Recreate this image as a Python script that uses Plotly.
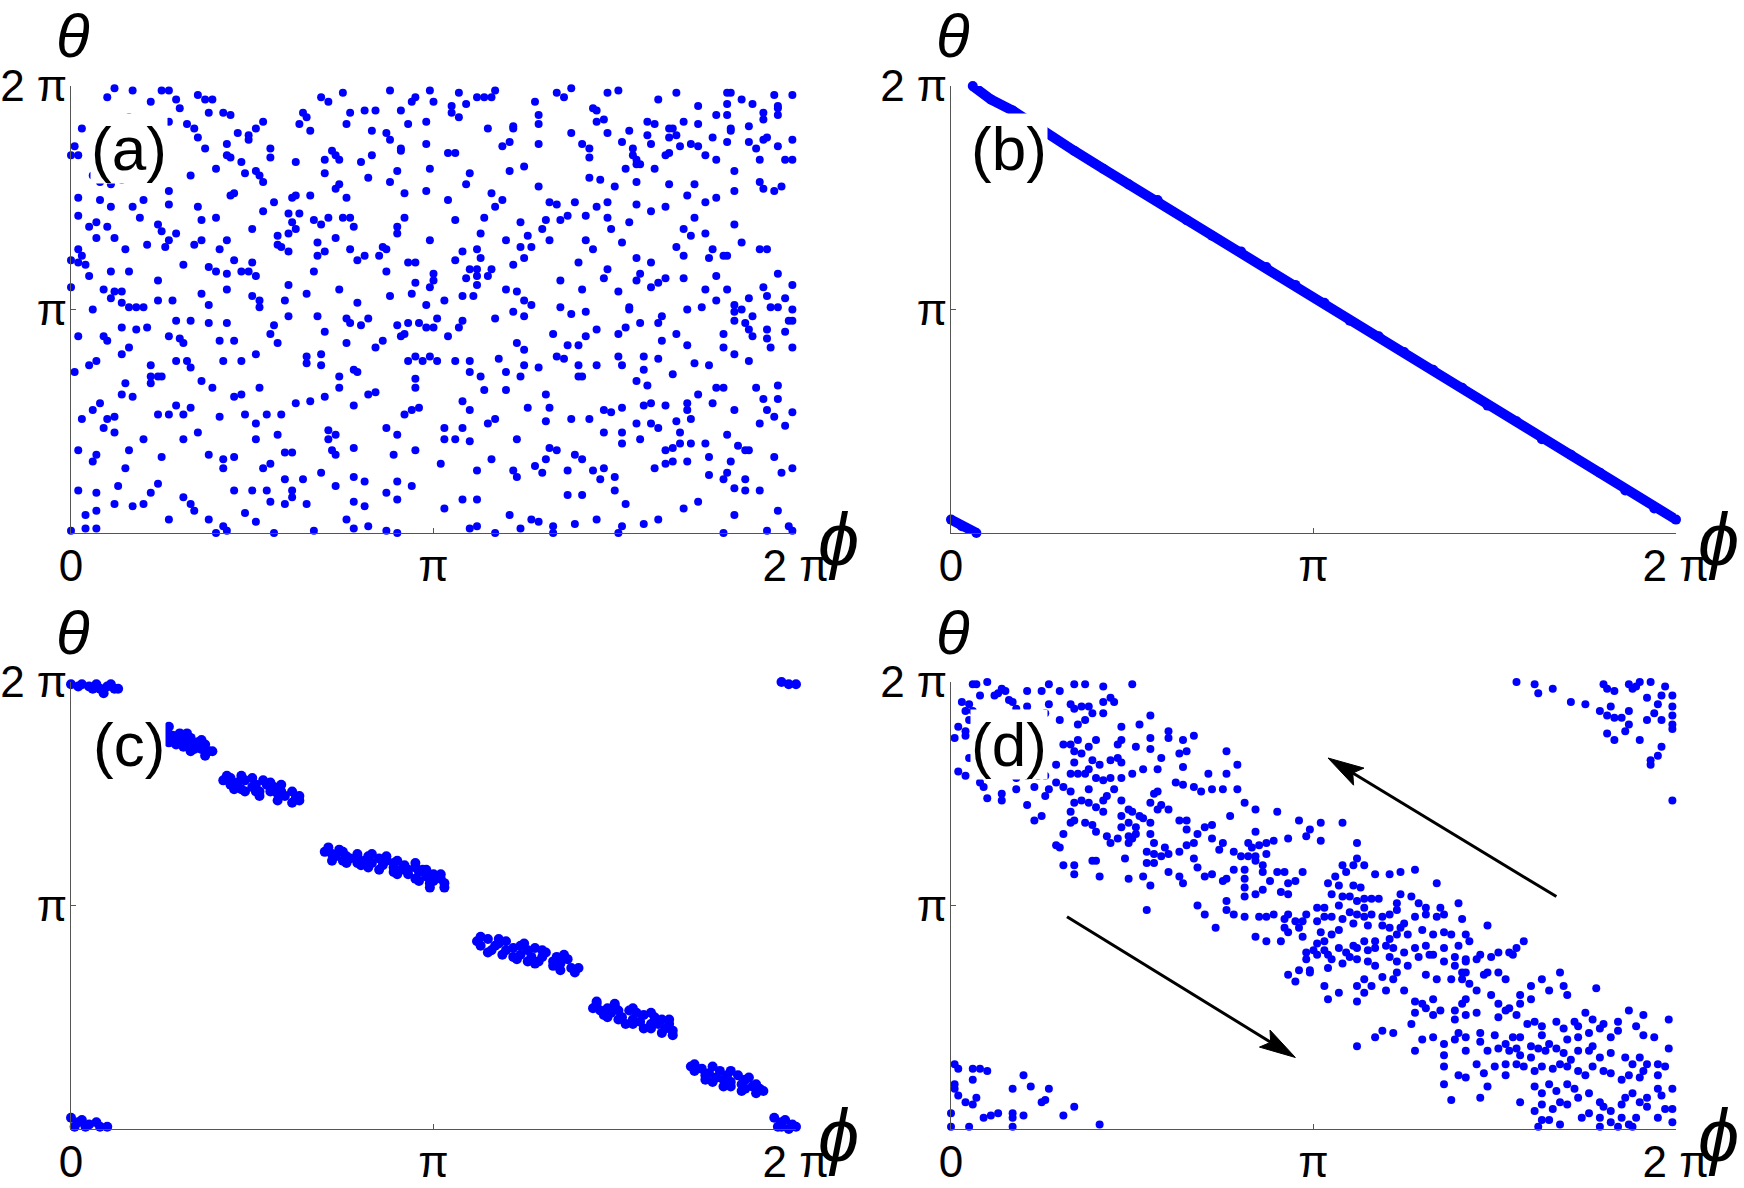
import numpy as np
import plotly.graph_objects as go

PI = np.pi

# ---------------- data (angles in units of pi: (phi/pi, theta/pi)) ----------------
points_a = [
(0.12,1.99),(0.17,1.98),(0.10,1.95),(0.25,1.98),(0.27,1.98),(0.22,1.93),(0.29,1.94),(0.35,1.96),(0.37,1.94),(0.39,1.94),(0.69,1.95),(0.75,1.97),(0.71,1.93),(0.88,1.98),(0.95,1.95),(0.99,1.98),(0.94,1.93),(1.00,1.93),(1.07,1.97),(1.09,1.92),(1.12,1.95),(1.14,1.95),(1.16,1.95),(1.17,1.98),(1.28,1.93),(1.34,1.97),(1.36,1.95),(1.38,1.99),(1.48,1.97),(1.51,1.98),(1.62,1.94),(1.67,1.97),(1.81,1.97),(1.82,1.97),(1.85,1.94),(1.94,1.96),(1.99,1.96),(1.88,1.92),(1.73,1.91),
(0.30,1.90),(0.38,1.88),(0.42,1.88),(0.44,1.87),(0.64,1.88),(0.77,1.88),(0.81,1.89),(0.84,1.89),(0.91,1.89),(1.05,1.91),(1.05,1.88),(1.44,1.90),(1.45,1.89),(1.81,1.92),(1.91,1.88),(1.95,1.90),(1.95,1.87),(1.78,1.87),(1.81,1.87),(0.03,1.81),(0.16,1.86),(0.27,1.84),(0.32,1.83),(0.34,1.81),(0.53,1.84),(0.63,1.83),(0.65,1.86),(0.76,1.83),(0.93,1.83),(0.98,1.84),(1.07,1.86),(1.22,1.82),(1.22,1.81),(1.29,1.83),(1.29,1.87),(1.47,1.85),(1.45,1.84),(1.59,1.84),(1.61,1.83),(1.65,1.81),(1.69,1.84),(1.73,1.83),(1.82,1.81),(1.87,1.82),(1.91,1.85),(1.95,1.91),
(0.35,1.77),(0.46,1.79),(0.49,1.78),(0.51,1.81),(0.49,1.76),(0.43,1.74),(0.66,1.80),(0.83,1.80),(0.87,1.79),(0.88,1.76),(0.98,1.74),(1.15,1.81),(1.19,1.73),(1.21,1.75),(1.29,1.74),(1.38,1.79),(1.41,1.74),(1.48,1.79),(1.52,1.75),(1.54,1.80),(1.55,1.72),(1.59,1.78),(1.60,1.74),(1.66,1.81),(1.65,1.77),(1.67,1.78),(1.71,1.74),(1.77,1.77),(1.82,1.80),(1.87,1.75),(1.91,1.76),(1.92,1.77),(1.99,1.76),(1.81,1.75),(1.89,1.72),(1.95,1.73),(0.37,1.72),(0.55,1.72),(0.43,1.69),(0.91,1.72),(0.91,1.71),(1.43,1.72),(1.43,1.68),
(0.00,1.69),(0.02,1.69),(0.01,1.73),(0.06,1.60),(0.14,1.58),(0.08,1.57),(0.11,1.56),(0.33,1.60),(0.40,1.63),(0.44,1.68),(0.47,1.66),(0.48,1.61),(0.51,1.62),(0.52,1.60),(0.55,1.68),(0.53,1.57),(0.62,1.66),(0.70,1.67),(0.72,1.71),(0.70,1.61),(0.73,1.69),(0.74,1.67),(0.80,1.66),(0.83,1.69),(0.90,1.62),(0.99,1.63),(1.04,1.70),(1.06,1.70),(1.10,1.61),(1.21,1.62),(1.25,1.64),(1.53,1.63),(1.56,1.65),(1.56,1.67),(1.57,1.65),(1.55,1.69),(1.64,1.69),(1.65,1.70),(1.68,1.73),(1.73,1.73),(1.75,1.69),(1.78,1.67),(1.83,1.62),(1.90,1.67),(1.97,1.67),(1.99,1.67),(1.61,1.63),(1.43,1.59),
(0.17,1.60),(0.27,1.53),(0.02,1.50),(0.08,1.49),(0.11,1.46),(0.17,1.46),(0.20,1.49),(0.27,1.47),(0.35,1.46),(0.44,1.51),(0.45,1.52),(0.56,1.48),(0.61,1.50),(0.62,1.51),(0.66,1.51),(0.74,1.56),(0.73,1.54),(0.76,1.50),(0.82,1.59),(0.88,1.57),(0.92,1.52),(0.98,1.53),(1.04,1.49),(1.09,1.56),(1.16,1.52),(1.17,1.46),(1.19,1.49),(1.29,1.55),(1.32,1.48),(1.34,1.47),(1.39,1.48),(1.46,1.58),(1.50,1.55),(1.56,1.57),(1.65,1.56),(1.72,1.56),(1.70,1.51),(1.75,1.48),(1.78,1.50),(1.83,1.53),(1.90,1.57),(1.91,1.54),(1.94,1.53),(1.96,1.55),(1.60,1.44),(1.64,1.46),(1.45,1.46),(1.48,1.48),(1.56,1.47),
(0.02,1.42),(0.05,1.37),(0.07,1.39),(0.10,1.37),(0.07,1.32),(0.12,1.32),(0.19,1.41),(0.24,1.38),(0.25,1.35),(0.27,1.31),(0.29,1.34),(0.34,1.29),(0.36,1.31),(0.40,1.41),(0.36,1.40),(0.50,1.36),(0.53,1.44),(0.60,1.43),(0.63,1.43),(0.61,1.39),(0.62,1.36),(0.60,1.34),(0.67,1.40),(0.69,1.38),(0.71,1.41),(0.75,1.41),(0.77,1.41),(0.78,1.37),(0.90,1.37),(0.90,1.34),(0.92,1.41),(1.06,1.40),(1.14,1.41),(1.13,1.34),(1.24,1.39),(1.30,1.36),(1.31,1.40),(1.35,1.40),(1.37,1.42),(1.42,1.42),(1.48,1.41),(1.49,1.36),(1.54,1.39),(1.69,1.36),(1.72,1.41),(1.75,1.34),(1.83,1.38),(1.71,1.33),
(0.02,1.27),(0.03,1.24),(0.04,1.20),(0.00,1.22),(0.02,1.21),(0.15,1.27),(0.21,1.29),(0.26,1.28),(0.43,1.31),(0.41,1.27),(0.45,1.22),(0.50,1.21),(0.49,1.17),(0.51,1.15),(0.31,1.20),(0.38,1.19),(0.40,1.17),(0.43,1.16),(0.47,1.17),(0.57,1.33),(0.57,1.29),(0.58,1.28),(0.60,1.26),(0.68,1.30),(0.73,1.32),(0.70,1.26),(0.68,1.24),(0.77,1.27),(0.79,1.22),(0.81,1.24),(0.86,1.28),(0.85,1.24),(0.87,1.27),(0.87,1.17),(0.93,1.21),(0.95,1.21),(0.99,1.31),(1.08,1.26),(1.12,1.27),(1.06,1.22),(1.13,1.23),(1.10,1.18),(1.12,1.18),(1.16,1.18),(1.12,1.15),(1.24,1.28),(1.20,1.31),(1.26,1.33),(1.27,1.28),(1.25,1.23),(1.22,1.20),(1.32,1.31),(1.40,1.21),(1.42,1.31),(1.44,1.27),(1.48,1.18),(1.52,1.30),(1.56,1.23),(1.60,1.21),(1.67,1.28),(1.69,1.24),(1.76,1.23),(1.77,1.27),(1.80,1.24),(1.81,1.24),(1.85,1.30),(1.90,1.27),(1.92,1.27),(1.78,1.15),(1.64,1.14),
(0.05,1.15),(0.11,1.17),(0.16,1.17),(0.24,1.13),(0.12,1.08),(0.11,1.05),(0.14,1.08),(0.16,1.01),(0.06,1.00),(0.00,1.10),(0.09,1.09),(0.14,1.03),(0.18,1.01),(0.20,1.01),(0.24,1.04),(0.28,1.04),(0.36,1.07),(0.38,1.02),(0.43,1.09),(0.50,1.06),(0.52,1.04),(0.52,1.01),(0.60,1.11),(0.59,1.04),(0.65,1.07),(0.67,1.17),(0.74,1.09),(0.79,1.03),(0.88,1.06),(0.94,1.07),(0.95,1.12),(1.00,1.16),(1.00,1.13),(0.99,1.10),(1.03,1.04),(0.98,1.02),(1.08,1.06),(1.09,1.14),(1.11,1.06),(1.12,1.11),(1.15,1.15),(1.20,1.09),(1.23,1.08),(1.25,1.04),(1.35,1.13),(1.41,1.09),(1.47,1.14),(1.51,1.08),(1.54,1.01),(1.57,1.16),(1.56,1.13),(1.60,1.10),(1.62,1.12),(1.69,1.14),(1.75,1.09),(1.78,1.04),(1.81,1.09),(1.83,1.02),(1.87,1.05),(1.91,1.10),(1.92,1.06),(1.95,1.16),(1.99,1.11),(1.93,1.01),(1.95,1.01),(1.97,1.05),(1.98,0.95),(1.99,1.00),
(0.02,0.88),(0.09,0.88),(0.10,0.86),(0.14,0.92),(0.18,0.91),(0.21,0.92),(0.16,0.83),(0.27,0.88),(0.29,0.95),(0.33,0.95),(0.38,0.94),(0.43,0.94),(0.55,0.89),(0.56,0.93),(0.60,0.97),(0.70,0.90),(0.68,0.97),(0.76,0.96),(0.77,0.94),(0.80,0.93),(0.82,0.96),(0.90,0.93),(0.92,0.89),(0.93,0.94),(0.96,0.94),(0.98,0.92),(1.00,0.92),(1.01,0.96),(1.04,0.88),(1.07,0.92),(1.08,0.95),(1.17,0.96),(1.22,0.99),(1.25,0.97),(1.27,1.02),(1.35,1.01),(1.38,0.98),(1.42,0.99),(1.53,0.92),(1.54,1.00),(1.57,0.94),(1.63,0.97),(1.62,0.94),(1.67,0.89),(1.70,1.00),(1.74,1.01),(1.80,0.89),(1.83,0.99),(1.85,1.00),(1.83,0.95),(1.86,0.94),(1.88,0.97),(1.87,0.91),(1.88,0.88),(1.92,0.91),(1.97,0.90),(1.99,0.95),(1.45,0.91),(1.51,0.89),(1.33,0.89),(1.42,0.88),
(0.05,0.75),(0.07,0.77),(0.14,0.80),(0.22,0.75),(0.22,0.70),(0.24,0.70),(0.25,0.70),(0.30,0.87),(0.31,0.85),(0.29,0.77),(0.32,0.77),(0.33,0.74),(0.41,0.86),(0.45,0.86),(0.42,0.77),(0.47,0.77),(0.51,0.80),(0.57,0.85),(0.65,0.79),(0.65,0.76),(0.69,0.80),(0.69,0.75),(0.76,0.85),(0.78,0.73),(0.79,0.72),(0.86,0.86),(0.84,0.83),(0.91,0.88),(0.95,0.79),(0.93,0.77),(0.97,0.77),(0.99,0.79),(1.01,0.77),(1.06,0.77),(1.10,0.77),(1.10,0.72),(1.13,0.70),(1.18,0.78),(1.20,0.72),(1.23,0.85),(1.25,0.82),(1.25,0.75),(1.29,0.74),(1.34,0.79),(1.37,0.84),(1.36,0.78),(1.40,0.84),(1.40,0.75),(1.40,0.70),(1.45,0.75),(1.51,0.79),(1.52,0.75),(1.58,0.79),(1.58,0.73),(1.62,0.78),(1.63,0.86),(1.66,0.71),(1.70,0.84),(1.72,0.76),(1.76,0.75),(1.80,0.83),(1.83,0.80),(1.87,0.77),(1.93,0.83),(1.99,0.83),(1.92,0.87),
(0.01,0.72),(0.15,0.67),(0.17,0.61),(0.14,0.62),(0.22,0.67),(0.36,0.68),(0.39,0.65),(0.45,0.61),(0.47,0.62),(0.52,0.65),(0.62,0.58),(0.66,0.59),(0.70,0.61),(0.74,0.70),(0.74,0.65),(0.78,0.57),(0.82,0.62),(0.84,0.63),(0.95,0.69),(0.95,0.65),(0.94,0.55),(0.96,0.56),(0.92,0.53),(1.08,0.59),(1.10,0.55),(1.14,0.64),(1.20,0.64),(1.24,0.70),(1.26,0.56),(1.31,0.62),(1.32,0.56),(1.38,0.51),(1.41,0.70),(1.47,0.55),(1.49,0.54),(1.52,0.56),(1.56,0.68),(1.59,0.66),(1.58,0.57),(1.60,0.58),(1.64,0.57),(1.70,0.58),(1.73,0.62),(1.77,0.58),(1.78,0.65),(1.80,0.65),(1.83,0.55),(1.89,0.65),(1.91,0.60),(1.95,0.66),(1.95,0.60),(1.99,0.54),(1.94,0.52),(1.92,0.55),(1.70,0.55),(1.71,0.51),
(0.03,0.51),(0.06,0.55),(0.08,0.58),(0.10,0.51),(0.09,0.47),(0.12,0.52),(0.12,0.45),(0.20,0.42),(0.24,0.53),(0.27,0.53),(0.29,0.57),(0.31,0.53),(0.33,0.56),(0.31,0.42),(0.35,0.45),(0.41,0.52),(0.48,0.53),(0.51,0.49),(0.51,0.42),(0.54,0.53),(0.58,0.53),(0.57,0.44),(0.71,0.46),(0.71,0.42),(0.72,0.37),(0.73,0.44),(0.73,0.35),(0.78,0.38),(0.87,0.47),(0.90,0.44),(0.95,0.37),(1.03,0.47),(1.03,0.42),(1.06,0.42),(1.08,0.47),(1.10,0.41),(1.15,0.49),(1.17,0.51),(1.23,0.42),(1.31,0.50),(1.32,0.38),(1.43,0.51),(1.47,0.45),(1.52,0.40),(1.52,0.45),(1.56,0.49),(1.57,0.42),(1.60,0.49),(1.62,0.47),(1.64,0.37),(1.66,0.38),(1.67,0.50),(1.68,0.45),(1.68,0.40),(1.71,0.40),(1.75,0.40),(1.81,0.44),(1.84,0.39),(1.86,0.37),(1.90,0.49),(1.97,0.48),
(0.02,0.37),(0.06,0.32),(0.07,0.35),(0.15,0.29),(0.16,0.37),(0.25,0.34),(0.38,0.35),(0.42,0.33),(0.42,0.29),(0.45,0.34),(0.53,0.29),(0.55,0.31),(0.59,0.36),(0.61,0.36),(0.59,0.24),(0.61,0.19),(0.64,0.24),(0.69,0.27),(0.78,0.25),(0.81,0.23),(0.89,0.35),(0.90,0.23),(1.02,0.31),(1.12,0.28),(1.16,0.33),(1.22,0.28),(1.23,0.25),(1.28,0.30),(1.31,0.33),(1.30,0.27),(1.34,0.37),(1.39,0.35),(1.41,0.33),(1.44,0.28),(1.47,0.29),(1.46,0.24),(1.50,0.25),(1.61,0.29),(1.64,0.31),(1.66,0.32),(1.70,0.32),(1.76,0.34),(1.76,0.26),(1.81,0.27),(1.82,0.32),(1.86,0.24),(1.94,0.34),(1.96,0.27),(1.99,0.29),(1.87,0.37),(1.80,0.24),(1.37,0.28),
(0.02,0.19),(0.07,0.18),(0.13,0.21),(0.04,0.08),(0.07,0.10),(0.04,0.02),(0.07,0.02),(0.12,0.13),(0.17,0.12),(0.20,0.13),(0.24,0.22),(0.22,0.18),(0.27,0.06),(0.31,0.16),(0.34,0.10),(0.33,0.13),(0.38,0.06),(0.40,0.00),(0.42,0.03),(0.43,0.01),(0.45,0.19),(0.48,0.09),(0.51,0.05),(0.50,0.19),(0.54,0.19),(0.55,0.14),(0.59,0.13),(0.61,0.16),(0.65,0.13),(0.56,0.00),(0.67,0.01),(0.73,0.21),(0.78,0.14),(0.76,0.06),(0.78,0.02),(0.81,0.12),(0.82,0.03),(0.87,0.18),(0.87,0.01),(0.90,0.00),(0.90,0.15),(0.94,0.21),(1.03,0.11),(1.08,0.15),(1.12,0.15),(1.12,0.03),(1.10,0.02),(1.17,0.00),(1.21,0.08),(1.24,0.02),(1.27,0.06),(1.29,0.05),(1.33,0.03),(1.33,0.00),(1.39,0.04),(1.37,0.17),(1.41,0.17),(1.45,0.06),(1.50,0.19),(1.52,0.03),(1.51,0.00),(1.53,0.13),(1.58,0.04),(1.62,0.06),(1.69,0.11),(1.73,0.14),(1.80,0.00),(1.83,0.08),(1.83,0.20),(1.86,0.19),(1.90,0.19),(1.92,0.01),(1.95,0.10),(1.98,0.03),(1.99,0.01),(0.00,0.01),
]

line_b_main = [
(0.06,2.00),(0.11,1.94),(0.17,1.89),(0.26,1.79),(0.34,1.71),(0.42,1.63),(0.49,1.56),(0.57,1.49),(0.65,1.40),(0.72,1.33),(0.80,1.26),(0.87,1.19),(0.95,1.11),(1.03,1.03),(1.10,0.95),(1.18,0.88),(1.25,0.81),(1.33,0.73),(1.41,0.65),(1.48,0.57),(1.56,0.50),(1.63,0.42),(1.71,0.35),(1.79,0.27),(1.86,0.19),(1.94,0.11),(2.00,0.06),
]
line_b_wrap = [(0.00,0.06),(0.03,0.03),(0.07,0.00)]

points_c = [
(0.00,1.99),(0.02,1.98),(0.03,1.99),(0.05,1.98),(0.07,1.99),(0.08,1.97),(0.10,1.98),(0.11,1.99),(0.12,1.97),(0.13,1.97),(0.09,1.95),(0.06,1.97),
(1.96,2.00),(1.98,1.99),(2.00,1.99),
(0.26,1.78),(0.27,1.75),(0.28,1.76),(0.29,1.74),(0.30,1.77),(0.31,1.74),(0.32,1.73),(0.33,1.75),(0.34,1.71),(0.35,1.73),(0.36,1.70),(0.37,1.72),(0.38,1.69),(0.39,1.69),(0.27,1.73),(0.31,1.71),(0.34,1.70),
(0.27,1.80),(0.32,1.77),(0.36,1.74),(0.29,1.72),(0.33,1.69),(0.37,1.67),
(0.42,1.56),(0.44,1.57),(0.44,1.54),(0.46,1.55),(0.47,1.52),(0.48,1.56),(0.50,1.57),(0.50,1.53),(0.51,1.54),(0.52,1.51),(0.54,1.54),(0.55,1.51),(0.56,1.53),(0.57,1.50),(0.58,1.51),(0.59,1.49),(0.61,1.51),(0.62,1.48),(0.63,1.49),(0.51,1.51),(0.48,1.51),(0.55,1.55),
(0.43,1.58),(0.47,1.58),(0.53,1.56),(0.58,1.54),(0.45,1.52),(0.52,1.49),(0.57,1.47),(0.61,1.46),(0.63,1.47),
(0.70,1.24),(0.72,1.23),(0.73,1.22),(0.75,1.24),(0.76,1.22),(0.77,1.21),(0.79,1.22),(0.81,1.20),(0.82,1.22),(0.83,1.19),(0.85,1.21),(0.86,1.18),(0.87,1.20),(0.89,1.17),(0.89,1.19),(0.91,1.16),(0.92,1.18),(0.93,1.16),(0.95,1.17),(0.96,1.15),(0.97,1.16),(0.98,1.13),(1.00,1.14),(1.00,1.11),(1.02,1.12),(1.03,1.10),(0.82,1.17),(0.79,1.19),(0.75,1.20),(0.89,1.15),(0.93,1.14),(0.96,1.11),(0.99,1.10),(0.79,1.23),(0.87,1.22),
(0.71,1.26),(0.74,1.25),(0.72,1.20),(0.76,1.19),(0.80,1.18),(0.85,1.16),(0.90,1.14),(0.95,1.12),(0.99,1.08),(1.03,1.08),(0.83,1.23),(0.90,1.20),(0.95,1.19),(0.98,1.16),(1.02,1.14),
(1.12,0.84),(1.13,0.82),(1.15,0.85),(1.17,0.82),(1.18,0.83),(1.20,0.80),(1.20,0.84),(1.22,0.81),(1.24,0.82),(1.24,0.78),(1.26,0.80),(1.27,0.77),(1.28,0.81),(1.30,0.77),(1.31,0.79),(1.33,0.75),(1.34,0.77),(1.35,0.74),(1.37,0.76),(1.38,0.72),(1.40,0.72),(1.19,0.78),(1.23,0.76),(1.29,0.75),(1.33,0.73),(1.16,0.80),(1.26,0.75),
(1.13,0.86),(1.18,0.85),(1.25,0.83),(1.30,0.80),(1.36,0.78),(1.15,0.79),(1.22,0.77),(1.28,0.74),(1.35,0.71),(1.39,0.70),
(1.44,0.54),(1.45,0.56),(1.46,0.53),(1.48,0.54),(1.49,0.52),(1.50,0.55),(1.51,0.53),(1.52,0.50),(1.54,0.53),(1.55,0.49),(1.56,0.52),(1.57,0.48),(1.58,0.51),(1.60,0.47),(1.61,0.50),(1.62,0.47),(1.63,0.49),(1.64,0.45),(1.65,0.47),(1.66,0.44),(1.47,0.51),(1.51,0.49),(1.55,0.47),(1.60,0.45),
(1.45,0.57),(1.50,0.56),(1.55,0.54),(1.60,0.52),(1.65,0.49),(1.48,0.50),(1.53,0.47),(1.58,0.45),(1.63,0.43),(1.66,0.42),
(1.71,0.28),(1.72,0.26),(1.74,0.27),(1.75,0.24),(1.76,0.25),(1.78,0.23),(1.79,0.26),(1.80,0.22),(1.81,0.24),(1.82,0.21),(1.84,0.24),(1.85,0.20),(1.86,0.22),(1.88,0.19),(1.89,0.20),(1.90,0.18),(1.91,0.17),(1.77,0.21),(1.82,0.19),(1.86,0.18),
(1.72,0.29),(1.77,0.28),(1.82,0.26),(1.87,0.23),(1.75,0.22),(1.80,0.19),(1.85,0.17),(1.89,0.16),
(1.94,0.05),(1.96,0.03),(1.97,0.04),(1.99,0.02),(2.00,0.01),(1.95,0.01),(1.98,0.00),(1.96,0.01),
(0.00,0.05),(0.02,0.03),(0.03,0.04),(0.05,0.02),(0.07,0.03),(0.08,0.01),(0.10,0.01),(0.01,0.01),(0.04,0.01),
]

points_d = [
(0.06,1.99),(0.07,1.99),(0.10,2.00),(0.13,1.95),(0.12,1.94),(0.14,1.97),(0.15,1.96),(0.16,1.92),(0.17,1.91),(0.21,1.96),(0.25,1.96),(0.27,1.99),(0.30,1.96),(0.34,1.99),(0.37,1.99),(0.42,1.98),(0.50,1.99),(0.44,1.93),(0.45,1.91),(0.03,1.91),(0.04,1.87),(0.05,1.90),(0.06,1.87),(0.08,1.94),(0.18,1.88),(0.21,1.89),(0.26,1.86),(0.27,1.90),(0.33,1.90),(0.34,1.88),(0.36,1.89),(0.38,1.89),(0.39,1.86),(0.42,1.91),(0.42,1.86),(0.37,1.83),(0.30,1.83),(0.35,1.81),(0.01,1.75),(0.02,1.80),(0.04,1.78),(0.04,1.76),(0.07,1.82),(0.05,1.83),
(0.55,1.85),(0.47,1.80),(0.52,1.81),(0.60,1.78),(0.55,1.75),(0.67,1.76),(0.64,1.74),(0.60,1.75),(0.51,1.71),(0.47,1.74),(0.46,1.72),(0.40,1.74),(0.38,1.71),(0.35,1.74),(0.33,1.72),(0.31,1.72),(0.34,1.69),(0.36,1.68),(0.39,1.65),(0.37,1.59),(0.38,1.61),(0.44,1.65),(0.41,1.63),(0.46,1.66),(0.47,1.64),(0.55,1.70),(0.58,1.66),(0.65,1.69),(0.63,1.68),(0.76,1.69),(0.79,1.63),(0.71,1.59),(0.76,1.59),(0.64,1.62),(0.57,1.61),(0.53,1.61),(0.50,1.59),(0.47,1.57),(0.44,1.57),(0.42,1.56),(0.40,1.57),(0.35,1.59),(0.33,1.59),(0.34,1.64),(0.29,1.63),(0.26,1.58),(0.24,1.58),(0.21,1.58),(0.29,1.55),(0.02,1.60),(0.04,1.58),(0.05,1.66),(0.08,1.55),(0.09,1.53),(0.10,1.48),(0.14,1.47),(0.14,1.50),(0.18,1.57),(0.23,1.53),(0.18,1.52),(0.21,1.45),(0.25,1.40),(0.23,1.38),(0.26,1.49),(0.27,1.52),(0.31,1.53),(0.33,1.51),(0.34,1.46),(0.33,1.42),(0.36,1.47),(0.38,1.46),(0.38,1.52),(0.42,1.47),(0.40,1.44),(0.42,1.42),(0.43,1.49),(0.45,1.52),(0.47,1.47),(0.49,1.43),(0.47,1.40),(0.50,1.42),(0.52,1.40),(0.55,1.46),(0.56,1.50),(0.57,1.51),(0.58,1.45),(0.57,1.43),(0.60,1.43),(0.62,1.55),(0.64,1.54),(0.67,1.53),(0.69,1.51),(0.72,1.52),(0.75,1.52),(0.79,1.52),(0.81,1.46),(0.77,1.40),(0.84,1.43),(0.90,1.42),(0.96,1.38),(0.99,1.34),(0.98,1.31),(1.02,1.37),(1.08,1.37),(1.02,1.29),(0.93,1.30),(0.89,1.29),(0.87,1.28),(0.85,1.27),(0.84,1.33),(0.82,1.28),(0.83,1.26),(0.84,1.22),(0.87,1.23),(0.80,1.22),(0.78,1.24),(0.75,1.28),(0.74,1.25),(0.72,1.36),(0.70,1.35),(0.68,1.32),(0.65,1.34),(0.65,1.38),(0.63,1.38),(0.72,1.30),(0.67,1.28),(0.65,1.27),(0.63,1.24),(0.60,1.23),(0.58,1.22),(0.56,1.23),(0.54,1.24),(0.54,1.19),(0.56,1.19),(0.59,1.26),(0.56,1.28),(0.55,1.32),(0.55,1.37),(0.53,1.39),(0.51,1.35),(0.51,1.32),(0.49,1.31),(0.47,1.35),(0.49,1.37),(0.50,1.30),(0.49,1.28),(0.46,1.30),(0.44,1.28),(0.43,1.31),(0.40,1.33),(0.39,1.36),(0.37,1.37),(0.34,1.38),(0.33,1.37),(0.31,1.32),(0.29,1.27),(0.30,1.26),(0.31,1.18),(0.34,1.18),(0.34,1.14),(0.39,1.20),(0.40,1.20),(0.41,1.13),(0.48,1.21),(0.49,1.12),(0.53,1.13),(0.55,1.09),(0.54,0.98),(0.60,1.15),(0.63,1.13),(0.64,1.10),(0.67,1.21),(0.68,1.17),(0.70,1.13),(0.72,1.14),(0.75,1.11),(0.76,1.12),(0.78,1.16),(0.81,1.16),(0.81,1.12),(0.82,1.22),(0.84,1.20),(0.86,1.18),(0.90,1.15),(0.92,1.15),(0.95,1.11),(0.97,1.15),(0.93,1.10),(0.93,1.05),(0.88,1.11),(0.86,1.15),(0.91,1.06),(0.86,1.07),(0.84,1.05),(0.81,1.04),(0.81,1.08),(0.76,1.02),(0.76,0.98),(0.78,0.96),(0.81,0.95),(0.85,0.95),(0.87,0.95),(0.89,0.96),(0.92,0.94),(0.93,0.96),(0.95,0.93),(0.92,0.90),(0.96,0.90),(0.97,0.93),(0.98,0.96),(1.01,0.93),(1.02,0.88),(0.97,0.86),(0.93,0.88),(0.91,0.84),(0.87,0.84),(0.84,0.86),(0.73,0.90),(0.70,0.96),(0.68,1.00),
(1.12,1.28),(1.12,1.21),(1.08,1.18),(1.11,1.18),(1.14,1.18),(1.06,1.13),(1.04,1.10),(1.09,1.15),(1.17,1.14),(1.21,1.14),(1.24,1.15),(1.28,1.16),(1.34,1.10),(1.13,1.08),(1.11,1.09),(1.07,1.09),(1.05,1.05),(1.08,1.04),(1.10,1.04),(1.12,1.02),(1.14,1.03),(1.14,0.99),(1.16,1.03),(1.18,1.03),(1.07,1.00),(1.03,0.99),(1.01,0.99),(1.03,0.95),(1.05,0.95),(1.08,0.94),(1.10,0.97),(1.12,0.96),(1.14,0.95),(1.16,0.96),(1.19,0.95),(1.21,0.96),(1.24,1.05),(1.27,1.04),(1.23,1.01),(1.23,0.98),(1.29,1.01),(1.31,0.99),(1.35,0.99),(1.40,1.01),(1.36,0.96),(1.34,0.95),(1.31,0.96),(1.28,0.95),(1.25,0.92),(1.24,0.90),(1.21,0.90),(1.19,0.91),(1.15,0.91),(1.11,0.92),(1.07,0.89),(1.05,0.87),(1.03,0.84),(1.01,0.83),(1.00,0.80),(1.03,0.80),(1.07,0.81),(1.11,0.82),(1.14,0.84),(1.17,0.84),(1.21,0.85),(1.23,0.87),(1.26,0.87),(1.30,0.89),(1.33,0.87),(1.36,0.88),(1.38,0.87),(1.41,0.94),(1.42,0.87),(1.40,0.82),(1.43,0.84),(1.48,0.91),(1.42,0.76),(1.39,0.77),(1.36,0.81),(1.33,0.78),(1.31,0.82),(1.28,0.81),(1.25,0.79),(1.22,0.81),(1.20,0.82),(1.17,0.81),(1.15,0.80),(1.12,0.81),(1.09,0.79),(1.05,0.76),(1.04,0.78),(1.01,0.78),(0.98,0.79),(0.98,0.76),(0.96,0.71),(0.99,0.71),(1.04,0.72),(1.08,0.74),(1.10,0.77),(1.12,0.76),(1.15,0.75),(1.17,0.73),(1.21,0.77),(1.23,0.75),(1.26,0.73),(1.29,0.77),(1.32,0.78),(1.36,0.75),(1.39,0.73),(1.41,0.70),(1.42,0.75),(1.45,0.76),(1.46,0.78),(1.49,0.77),(1.51,0.79),(1.54,0.79),(1.56,0.81),(1.58,0.84),(1.55,0.78),
(0.93,0.69),(0.95,0.66),(0.99,0.70),(1.03,0.64),(1.04,0.58),(1.07,0.61),(1.12,0.64),(1.12,0.57),(1.14,0.67),(1.14,0.61),(1.16,0.64),(1.19,0.68),(1.23,0.70),(1.22,0.67),(1.20,0.62),(1.25,0.62),(1.28,0.57),(1.30,0.56),(1.31,0.69),(1.34,0.67),(1.38,0.67),(1.41,0.67),(1.42,0.70),(1.43,0.65),(1.45,0.62),(1.47,0.69),(1.48,0.70),(1.51,0.70),(1.53,0.67),(1.57,0.60),(1.60,0.64),(1.63,0.67),(1.65,0.62),(1.68,0.70),(1.69,0.64),(1.70,0.60),(1.78,0.63),(1.60,0.58),(1.57,0.56),(1.54,0.54),(1.51,0.56),(1.49,0.60),(1.42,0.58),(1.41,0.56),(1.39,0.53),(1.35,0.53),(1.33,0.58),(1.31,0.54),(1.28,0.52),(1.27,0.47),(1.33,0.51),(1.39,0.49),(1.42,0.51),(1.45,0.52),(1.51,0.50),(1.53,0.53),(1.56,0.51),(1.59,0.47),(1.61,0.48),(1.63,0.46),(1.67,0.48),(1.69,0.45),(1.72,0.48),(1.73,0.46),(1.75,0.52),(1.77,0.49),(1.80,0.47),(1.84,0.48),(1.87,0.53),(1.91,0.51),(1.98,0.49),(1.94,0.41),(1.91,0.42),(1.89,0.46),(1.84,0.44),(1.82,0.41),(1.79,0.45),(1.76,0.43),(1.73,0.41),(1.70,0.40),(1.65,0.38),(1.63,0.42),(1.60,0.37),(1.57,0.41),(1.55,0.41),(1.53,0.38),(1.50,0.42),(1.46,0.43),(1.42,0.41),(1.40,0.43),(1.39,0.40),(1.36,0.38),(1.33,0.41),(1.30,0.40),(1.28,0.35),(1.22,0.43),(1.19,0.44),(1.17,0.41),(1.12,0.37),(1.46,0.39),(1.42,0.35),(1.36,0.33),
(1.48,0.35),(1.51,0.36),(1.54,0.35),(1.56,0.36),(1.57,0.33),(1.60,0.32),(1.62,0.36),(1.64,0.35),(1.67,0.36),(1.69,0.34),(1.71,0.31),(1.73,0.35),(1.76,0.35),(1.77,0.37),(1.79,0.32),(1.82,0.34),(1.86,0.32),(1.88,0.29),(1.90,0.32),(1.92,0.29),(1.95,0.29),(1.97,0.28),(1.98,0.36),(1.95,0.24),(1.91,0.26),(1.90,0.23),(1.87,0.24),(1.85,0.22),(1.82,0.25),(1.80,0.26),(1.77,0.28),(1.75,0.24),(1.73,0.26),(1.70,0.28),(1.68,0.29),(1.66,0.27),(1.63,0.28),(1.61,0.26),(1.58,0.28),(1.56,0.29),(1.53,0.29),(1.50,0.28),(1.47,0.25),(1.45,0.29),(1.36,0.28),(1.36,0.20),(1.38,0.13),(1.40,0.24),(1.42,0.23),(1.46,0.14),(1.48,0.19),(1.53,0.24),(1.57,0.12),(1.61,0.19),(1.63,0.16),(1.65,0.20),(1.67,0.17),(1.70,0.20),(1.72,0.18),(1.73,0.14),(1.76,0.16),(1.79,0.12),(1.80,0.10),(1.82,0.08),(1.85,0.11),(1.86,0.14),(1.88,0.16),(1.90,0.12),(1.92,0.14),(1.95,0.18),(1.96,0.15),(1.99,0.18),(1.97,0.09),(1.99,0.09),(1.92,0.10),(1.89,0.05),(1.87,0.02),(1.85,0.05),(1.82,0.03),(1.79,0.05),(1.79,0.01),(1.76,0.07),(1.70,0.11),(1.68,0.12),(1.66,0.09),(1.63,0.11),(1.61,0.08),(1.63,0.04),(1.65,0.04),(1.62,0.01),(1.68,0.02),(1.74,0.05),(1.84,0.01),(1.88,0.01),(1.99,0.03),(1.95,0.05),
(1.56,2.00),(1.61,1.99),(1.62,1.95),(1.66,1.97),(1.71,1.91),(1.75,1.90),(1.79,1.87),(1.80,1.99),(1.81,1.97),(1.83,1.96),(1.87,1.99),(1.88,1.97),(1.89,1.98),(1.90,2.00),(1.93,2.00),(1.92,1.93),(1.96,1.94),(1.97,1.98),(1.99,1.94),(1.95,1.90),(1.99,1.89),(1.94,1.86),(1.99,1.85),(1.96,1.83),(1.99,1.81),(1.99,1.79),(1.82,1.89),(1.81,1.85),(1.83,1.84),(1.85,1.84),(1.87,1.87),(1.87,1.81),(1.86,1.78),(1.81,1.77),(1.83,1.74),(1.90,1.74),(1.92,1.83),(1.96,1.71),(1.95,1.67),(1.93,1.65),(1.93,1.63),(1.99,1.47),
(0.01,0.29),(0.02,0.27),(0.06,0.27),(0.08,0.27),(0.10,0.26),(0.06,0.22),(0.01,0.20),(0.01,0.18),(0.02,0.15),(0.04,0.12),(0.07,0.14),(0.06,0.11),(0.17,0.18),(0.20,0.24),(0.22,0.19),(0.27,0.18),(0.26,0.13),(0.25,0.12),(0.34,0.10),(0.31,0.06),(0.17,0.07),(0.17,0.05),(0.20,0.06),(0.13,0.07),(0.11,0.06),(0.09,0.05),(0.00,0.07),(0.05,0.01),(0.17,0.01),(0.41,0.02),(0.00,0.01),
]

# arrows in panel (d): (tail, head) in units of pi
arrows_d = [((1.67, 1.04), (1.04, 1.66)), ((0.32, 0.95), (0.95, 0.32))]

x_tick_vals = [0, 1, 2]
x_tick_text = ["0", "π", "2 π"]
y_tick_vals = [1, 2]
y_tick_text = ["π", "2 π"]
panel_labels = ["(a)", "(b)", "(c)", "(d)"]

# ---------------- layout geometry (pixels) ----------------
W, H = 1744, 1188
lefts = [71, 951, 71, 951]
rights = [796, 1676, 796, 1676]
tops = [86, 86, 682, 682]
bottoms = [533, 533, 1129, 1129]

BLUE = "#0000FF"
AXC = "#555555"
FONT = "Liberation Sans, Arial, sans-serif"


def xy(pts):
    a = np.array(pts, dtype=float)
    return a[:, 0] * PI, a[:, 1] * PI


fig = go.Figure()

xa, ya = xy(points_a)
fig.add_trace(go.Scatter(x=xa, y=ya, mode="markers", xaxis="x", yaxis="y",
                         marker=dict(color=BLUE, size=8, line=dict(width=0)), cliponaxis=False))
for seg in (line_b_main, line_b_wrap):
    xb, yb = xy(seg)
    fig.add_trace(go.Scatter(x=xb, y=yb, mode="lines+markers", xaxis="x2", yaxis="y2",
                             line=dict(color=BLUE, width=10), marker=dict(color=BLUE, size=10),
                             cliponaxis=False))
xc, yc = xy(points_c)
fig.add_trace(go.Scatter(x=xc, y=yc, mode="markers", xaxis="x3", yaxis="y3",
                         marker=dict(color=BLUE, size=10, line=dict(width=0)), cliponaxis=False))
xd, yd = xy(points_d)
fig.add_trace(go.Scatter(x=xd, y=yd, mode="markers", xaxis="x4", yaxis="y4",
                         marker=dict(color=BLUE, size=8, line=dict(width=0)), cliponaxis=False))

tickfont = dict(family=FONT, size=44, color="black")
layout = dict(width=W, height=H, autosize=False, margin=dict(l=0, r=0, t=0, b=0, pad=0),
              paper_bgcolor="white", plot_bgcolor="white", showlegend=False)

annotations = []
for i in range(4):
    n = "" if i == 0 else str(i + 1)
    layout["xaxis" + n] = dict(
        domain=[lefts[i] / W, rights[i] / W], anchor="y" + n, range=[0, 2 * PI],
        showline=True, linecolor=AXC, linewidth=1, mirror=False, automargin=False,
        ticks="inside", ticklen=5, tickcolor=AXC, tickwidth=1,
        tickvals=[v * PI for v in x_tick_vals], ticktext=x_tick_text,
        tickfont=tickfont, showgrid=False, zeroline=False, fixedrange=True,
        ticklabelstandoff=-6)
    layout["yaxis" + n] = dict(
        domain=[1 - bottoms[i] / H, 1 - tops[i] / H], anchor="x" + n, range=[0, 2 * PI],
        showline=True, linecolor=AXC, linewidth=1, mirror=False, automargin=False,
        ticks="inside", ticklen=5, tickcolor=AXC, tickwidth=1,
        tickvals=[v * PI for v in y_tick_vals], ticktext=y_tick_text,
        tickfont=tickfont, showgrid=False, zeroline=False, fixedrange=True,
        ticklabelstandoff=-6)
    annotations.append(dict(
        text=panel_labels[i], xref="paper", yref="paper",
        x=(lefts[i] + 58) / W, y=1 - (tops[i] + 62) / H,
        xanchor="center", yanchor="middle", showarrow=False,
        font=dict(family=FONT, size=62, color="black"),
        bgcolor="white", borderpad=0))
    annotations.append(dict(
        text="θ", xref="paper", yref="paper",
        x=(lefts[i] + 2) / W, y=1 - (tops[i] - 50) / H,
        xanchor="center", yanchor="middle", showarrow=False,
        font=dict(family=FONT, size=62, color="black", style="italic")))
    annotations.append(dict(
        text="ϕ", xref="paper", yref="paper",
        x=(rights[i] + 42) / W, y=1 - (bottoms[i] + 6) / H,
        xanchor="center", yanchor="middle", showarrow=False,
        font=dict(family=FONT, size=74, color="black", style="italic")))

# arrows in panel (d): shaft + slim notched head, built in pixel space of the panel
sx = (rights[3] - lefts[3]) / 2.0
sy = (bottoms[3] - tops[3]) / 2.0
HEAD_L, HEAD_W, NOTCH = 36.0, 10.0, 7.0
shapes = []
for (tail, head) in arrows_d:
    tx, ty = tail[0] * sx, tail[1] * sy
    hx, hy = head[0] * sx, head[1] * sy
    L = np.hypot(hx - tx, hy - ty)
    ux, uy = (hx - tx) / L, (hy - ty) / L
    nx, ny = -uy, ux
    c1 = (hx - HEAD_L * ux + HEAD_W * nx, hy - HEAD_L * uy + HEAD_W * ny)
    c2 = (hx - HEAD_L * ux - HEAD_W * nx, hy - HEAD_L * uy - HEAD_W * ny)
    nb = (hx - (HEAD_L - NOTCH) * ux, hy - (HEAD_L - NOTCH) * uy)

    def d(p):
        return p[0] / sx * PI, p[1] / sy * PI

    t_d, h_d, c1_d, c2_d, nb_d = d((tx, ty)), d((hx, hy)), d(c1), d(c2), d(nb)
    shapes.append(dict(type="line", xref="x4", yref="y4",
                       x0=t_d[0], y0=t_d[1], x1=nb_d[0], y1=nb_d[1],
                       line=dict(color="black", width=3)))
    path = "M {:.5f},{:.5f} L {:.5f},{:.5f} L {:.5f},{:.5f} L {:.5f},{:.5f} Z".format(
        h_d[0], h_d[1], c1_d[0], c1_d[1], nb_d[0], nb_d[1], c2_d[0], c2_d[1])
    shapes.append(dict(type="path", xref="x4", yref="y4", path=path,
                       fillcolor="black", line=dict(color="black", width=1)))

layout["annotations"] = annotations
layout["shapes"] = shapes
fig.update_layout(**layout)
fig.write_html("out.html")
